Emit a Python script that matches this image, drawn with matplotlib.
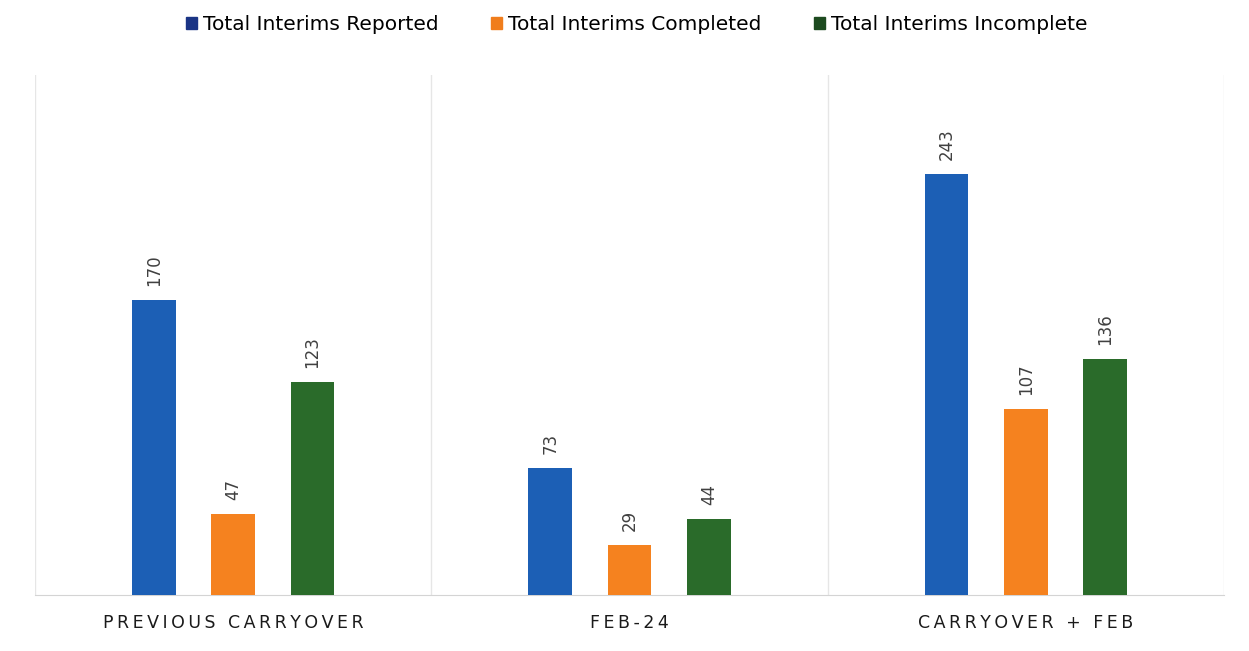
import numpy as np
import matplotlib.pyplot as plt

# data
categories = ['PREVIOUS CARRYOVER', 'FEB-24', 'CARRYOVER + FEB']
reported = [170, 73, 243]
completed = [47, 29, 107]
incomplete = [123, 44, 136]
series_names = ['Total Interims Reported', 'Total Interims Completed', 'Total Interims Incomplete']

bar_colors = ['#1c5fb5', '#f5821f', '#2a6b2a']
legend_colors = ['#1a3485', '#f07d1c', '#1d4a1f']


def spaced(s):
    # the original labels are letter-spaced; thin spaces between characters
    return '\u2009'.join(s)


fig = plt.figure(figsize=(12.49, 6.51), dpi=100)
ax = fig.add_axes([0.028, 0.086, 0.952, 0.799])

x = np.arange(len(categories))
offsets = [-0.2, 0.0, 0.2]
width = 0.11

for vals, off, col in zip([reported, completed, incomplete], offsets, bar_colors):
    bars = ax.bar(x + off, vals, width, color=col, zorder=3)
    for b, v in zip(bars, vals):
        ax.annotate(str(v), (b.get_x() + b.get_width() / 2, v),
                    xytext=(0, 14), textcoords='offset pixels',
                    rotation=90, ha='center', va='bottom', fontsize=12, color='#404040')

# separators between categories
for bnd in np.arange(len(categories) + 1) - 0.5:
    ax.axvline(bnd, color='#e6e6e6', lw=1, zorder=1)

ax.set_xlim(-0.5, len(categories) - 0.5)
ax.set_ylim(0, 300)
ax.set_yticks([])
ax.set_xticks(x)
ax.set_xticklabels([spaced(c) for c in categories], fontsize=12.5, color='#1a1a1a')
ax.tick_params(axis='x', length=0, pad=14)
for s in ['top', 'left', 'right']:
    ax.spines[s].set_visible(False)
ax.spines['bottom'].set_color('#d4d4d4')

handles = [plt.Rectangle((0, 0), 1, 1, color=c) for c in legend_colors]
fig.legend(handles, series_names, loc='upper center', bbox_to_anchor=(0.51, 1.005),
           ncol=3, frameon=False, fontsize=14.5, handlelength=0.55, handleheight=0.55,
           handletextpad=0.3, columnspacing=2.6)

fig.savefig('out.png', dpi=100, facecolor='white')
